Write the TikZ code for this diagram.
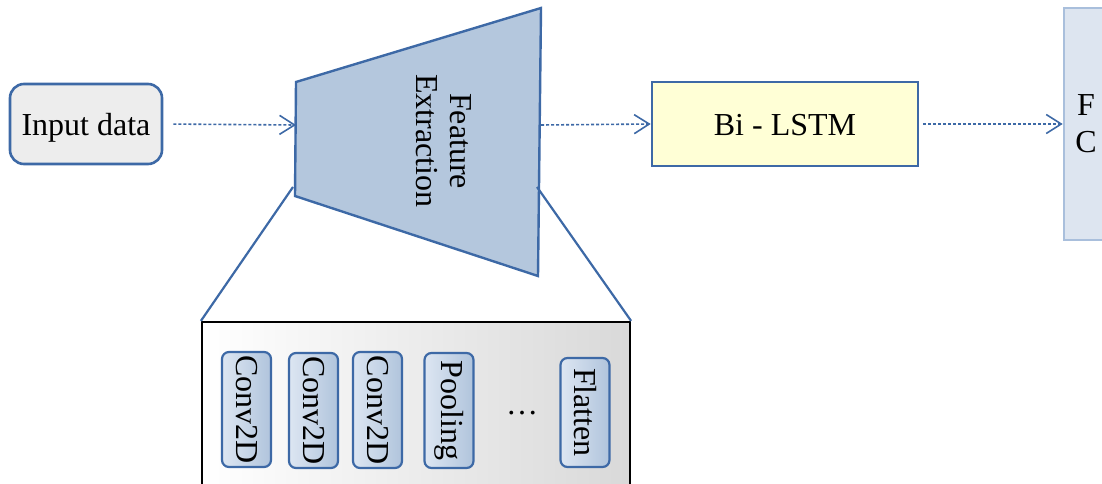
\documentclass[tikz,border=0pt]{standalone}
\usepackage{fontspec}
\setmainfont{Liberation Serif}
\usetikzlibrary{arrows.meta}
\definecolor{edgeblue}{HTML}{3D69A6}
\definecolor{inputfill}{HTML}{EDEDED}
\definecolor{trapfill}{HTML}{B4C7DD}
\definecolor{lstmfill}{HTML}{FFFFD6}
\definecolor{fcfill}{HTML}{DDE5F0}
\definecolor{fcedge}{HTML}{A9BFDC}
\definecolor{pillleft}{HTML}{DDE6F2}
\definecolor{pillright}{HTML}{B0C4DC}
\tikzset{
  lbl/.style={font=\fontsize{32}{37}\selectfont, text=black, inner sep=0pt},
  oneline/.style={text height=22.5pt, text depth=0pt},
  flow/.style={draw=edgeblue, line width=1.6pt, dash pattern=on 3pt off 2pt,
    -{Straight Barb[length=15pt,width=19pt,line width=1.6pt,line cap=butt]}},
  link/.style={draw=edgeblue, line width=2.2pt},
  pill/.style={lbl, draw=edgeblue, line width=2.2pt, rounded corners=7pt,
    left color=pillleft, right color=pillright, minimum width=49pt},
}
\begin{document}
\begin{tikzpicture}[x=1pt,y=-1pt]
  \useasboundingbox (0,0) rectangle (1102,484);
  \clip (0,0) rectangle (1102,484);

  % input block
  \node[lbl, oneline, draw=edgeblue, line width=2.6pt, fill=inputfill, rounded corners=14pt,
        minimum width=152pt, minimum height=80pt] (in) at (86,124) {Input data};

  % feature extraction trapezoid
  \coordinate (tl) at (296,82);
  \coordinate (tr) at (541,8);
  \coordinate (br) at (538,276);
  \coordinate (bl) at (295,196);
  \filldraw[fill=trapfill, draw=edgeblue, line width=2.4pt, line join=miter]
    (tl) -- (tr) -- (br) -- (bl) -- cycle;
  \node[lbl] (fe) at (441,141)
    {\rotatebox{-90}{\begin{tabular}{@{}c@{}}Feature\\[-3pt]Extraction\end{tabular}}};
  \coordinate (fein) at (296,125);
  \coordinate (feout) at (541,125);
  \coordinate (zoomL) at (293,187);
  \coordinate (zoomR) at (537,187);

  % expanded view of the feature extractor
  \node[draw=black, line width=2.2pt, left color=white, right color=black!15,
        minimum width=428pt, minimum height=200pt, inner sep=0pt] (panel) at (416,422) {};
  \draw[link] (zoomL) -- (panel.north west);
  \draw[link] (zoomR) -- (panel.north east);

  \node[pill, minimum height=115pt] (c1) at (246.5,409.5) {\rotatebox{-90}{Conv2D}};
  \node[pill, minimum height=115pt] (c2) at (313.5,410.5) {\rotatebox{-90}{Conv2D}};
  \node[pill, minimum height=116pt] (c3) at (377.5,410) {\rotatebox{-90}{Conv2D}};
  \node[pill, minimum height=115pt] (pool) at (449,410.5) {\rotatebox{-90}{Pooling}};
  \node[lbl] (dots) at (522,413) {\ldots};
  \node[pill, minimum height=109pt] (flat) at (585,412.5) {\rotatebox{-90}{Flatten}};

  % recurrent block
  \node[lbl, oneline, draw=edgeblue, line width=2.6pt, fill=lstmfill,
        minimum width=266pt, minimum height=84pt] (lstm) at (785,124) {Bi - LSTM};

  % fully connected block
  \node[lbl, draw=fcedge, line width=2.6pt, fill=fcfill, align=center,
        minimum width=44pt, minimum height=232pt, font=\fontsize{32}{37}\selectfont]
        (fc) at (1086,124) {F\\C};

  % data flow
  \draw[flow, shorten <=10pt] (in.east) -- (fein);
  \draw[flow] (feout) -- (lstm.west);
  \draw[flow, shorten <=4pt] (lstm.east) -- (fc.west);
\end{tikzpicture}
\end{document}
